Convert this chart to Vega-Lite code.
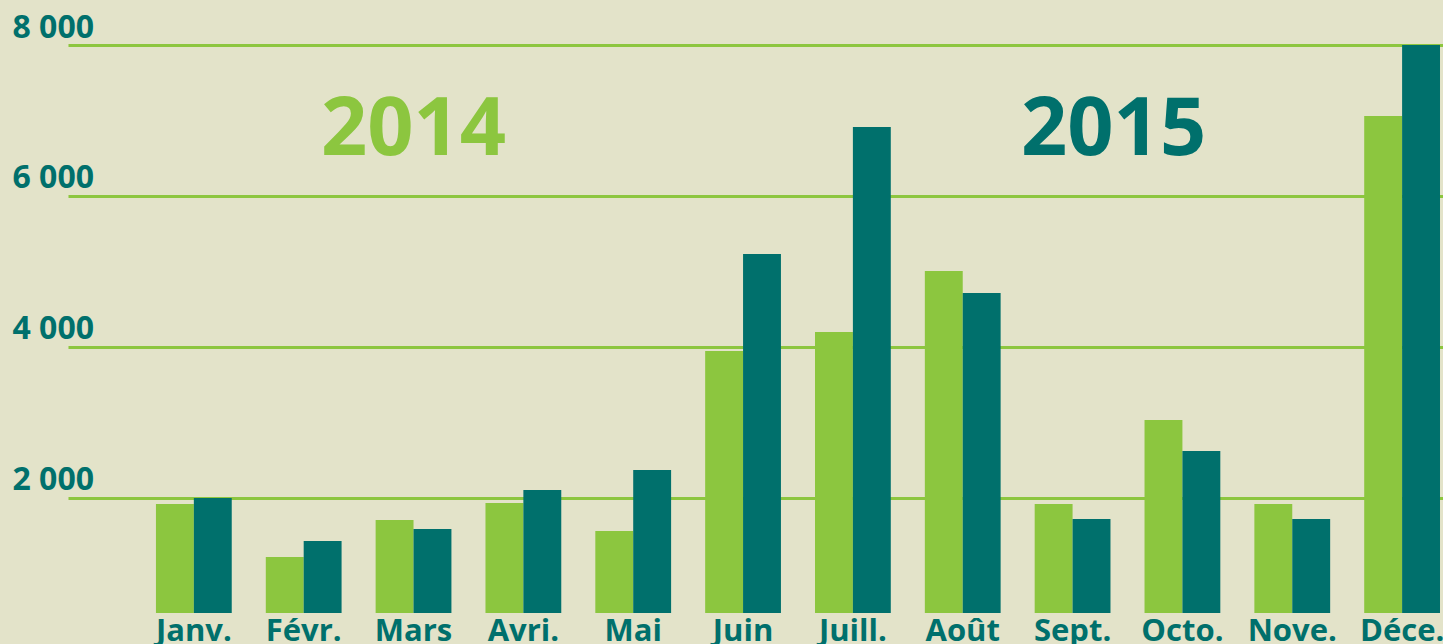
{
  "$schema": "https://vega.github.io/schema/vega-lite/v6.json",
  "width": 1375,
  "height": 568,
  "autosize": "none",
  "padding": {"left": 68, "top": 45, "right": 0, "bottom": 31},
  "background": "#E3E3C9",
  "config": {"view": {"stroke": null}, "font": "Open Sans"},
  "datasets": {
    "sales": [
      {"month": "Janv.", "year": "2014", "value": 1920},
      {"month": "Janv.", "year": "2015", "value": 2000},
      {"month": "Févr.", "year": "2014", "value": 1218},
      {"month": "Févr.", "year": "2015", "value": 1430},
      {"month": "Mars", "year": "2014", "value": 1708},
      {"month": "Mars", "year": "2015", "value": 1589},
      {"month": "Avri.", "year": "2014", "value": 1933},
      {"month": "Avri.", "year": "2015", "value": 2105},
      {"month": "Mai", "year": "2014", "value": 1562},
      {"month": "Mai", "year": "2015", "value": 2370},
      {"month": "Juin", "year": "2014", "value": 3946},
      {"month": "Juin", "year": "2015", "value": 5231},
      {"month": "Juill.", "year": "2014", "value": 4197},
      {"month": "Juill.", "year": "2015", "value": 6914},
      {"month": "Août", "year": "2014", "value": 5006},
      {"month": "Août", "year": "2015", "value": 4715},
      {"month": "Sept.", "year": "2014", "value": 1920},
      {"month": "Sept.", "year": "2015", "value": 1721},
      {"month": "Octo.", "year": "2014", "value": 3033},
      {"month": "Octo.", "year": "2015", "value": 2622},
      {"month": "Nove.", "year": "2014", "value": 1920},
      {"month": "Nove.", "year": "2015", "value": 1721},
      {"month": "Déce.", "year": "2014", "value": 7059},
      {"month": "Déce.", "year": "2015", "value": 8000}
    ]
  },
  "layer": [
    {
      "data": {"name": "sales"},
      "mark": {"type": "bar"},
      "encoding": {
        "x": {
          "field": "month",
          "type": "nominal",
          "scale": {
            "domain": ["Janv.", "Févr.", "Mars", "Avri.", "Mai", "Juin", "Juill.", "Août", "Sept.", "Octo.", "Nove.", "Déce."],
            "paddingInner": 0.31,
            "paddingOuter": 0.414,
            "align": 0.967
          },
          "axis": {
            "orient": "bottom",
            "title": null,
            "domain": false,
            "ticks": false,
            "tickSize": 0,
            "labelAngle": 0,
            "labelPadding": 27,
            "labelBaseline": "alphabetic",
            "labelFont": "Open Sans",
            "labelFontWeight": "bold",
            "labelFontSize": 31,
            "labelColor": "#00706C"
          }
        },
        "xOffset": {"field": "year", "type": "nominal", "scale": {"paddingInner": 0, "paddingOuter": 0}},
        "y": {
          "field": "value",
          "type": "quantitative",
          "scale": {"domain": [476, 8000], "zero": false, "nice": false},
          "axis": {
            "title": null,
            "values": [2000, 4000, 6000, 8000],
            "labelExpr": "replace(format(datum.value, ','), ',', ' ')",
            "domain": false,
            "ticks": false,
            "tickSize": 0,
            "grid": true,
            "gridColor": "#8DC63F",
            "gridWidth": 3,
            "gridOpacity": 1,
            "labelAlign": "left",
            "labelPadding": 56,
            "labelBaseline": "alphabetic",
            "labelOffset": -8,
            "labelFont": "Open Sans",
            "labelFontWeight": "bold",
            "labelFontSize": 32,
            "labelColor": "#00706C"
          }
        },
        "y2": {"datum": 476},
        "color": {
          "field": "year",
          "type": "nominal",
          "scale": {"domain": ["2014", "2015"], "range": ["#8CC63F", "#00706C"]},
          "legend": null
        }
      }
    },
    {
      "data": {"values": [{"month": "Mars", "value": 6543, "label": "2014"}]},
      "mark": {"type": "text", "font": "Open Sans", "fontWeight": "bold", "fontSize": 81, "color": "#8CC63F", "align": "center", "baseline": "alphabetic"},
      "encoding": {
        "x": {"field": "month", "type": "nominal"},
        "y": {"field": "value", "type": "quantitative"},
        "text": {"field": "label"}
      }
    },
    {
      "data": {"values": [{"month": "Sept.", "value": 6543, "label": "2015"}]},
      "mark": {"type": "text", "font": "Open Sans", "fontWeight": "bold", "fontSize": 81, "color": "#00706C", "align": "center", "baseline": "alphabetic", "dx": 41},
      "encoding": {
        "x": {"field": "month", "type": "nominal"},
        "y": {"field": "value", "type": "quantitative"},
        "text": {"field": "label"}
      }
    }
  ]
}
